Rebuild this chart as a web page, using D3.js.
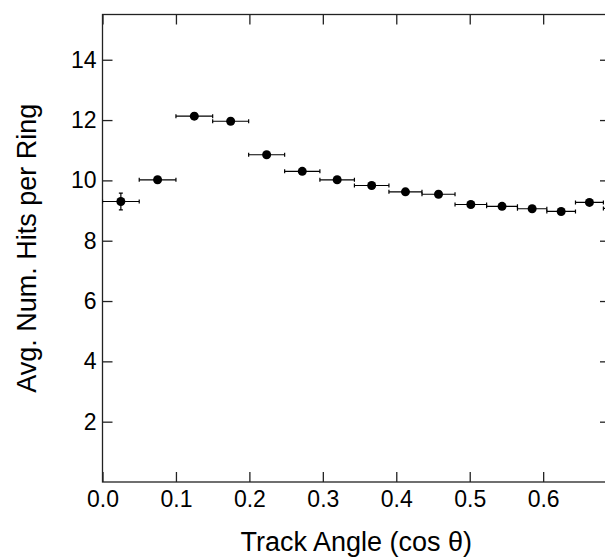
<!DOCTYPE html>
<html>
<head>
<meta charset="utf-8">
<script src="https://cdn.jsdelivr.net/npm/d3@7"></script>
<style>
  body { margin: 0; background: #fff; }
  svg { display: block; font-family: "Liberation Sans", Arial, sans-serif; }
</style>
</head>
<body>
<script>
// data
var binLow  = [0.000, 0.050, 0.100, 0.150, 0.199, 0.248, 0.296, 0.343, 0.390, 0.435, 0.480, 0.523, 0.565, 0.605, 0.644, 0.682],
    binHigh = [0.050, 0.100, 0.150, 0.199, 0.248, 0.296, 0.343, 0.390, 0.435, 0.480, 0.523, 0.565, 0.605, 0.644, 0.682, 0.718],
    hits    = [9.30, 10.02, 12.13, 11.96, 10.85, 10.30, 10.02, 9.83, 9.62, 9.54, 9.20, 9.14, 9.06, 8.97, 9.27, 9.07],
    hitsErr = [0.28, 0.10, 0.10, 0.10, 0.09, 0.08, 0.08, 0.07, 0.07, 0.07, 0.07, 0.07, 0.07, 0.08, 0.09, 0.10],
    xTicks = [0.0, 0.1, 0.2, 0.3, 0.4, 0.5, 0.6],
    yTicks = [2, 4, 6, 8, 10, 12, 14];

var margin = {top: 14.5, right: -5, bottom: 76, left: 102.5},
    canvasWidth = 605,
    canvasHeight = 558,
    plotWidth = canvasWidth - margin.left - margin.right,
    plotHeight = canvasHeight - margin.top - margin.bottom,
    tickLen = 10,
    axisColor = "#222";

var data = hits.map(function(h, i) {
    return {lo: binLow[i], hi: binHigh[i], x: (binLow[i] + binHigh[i]) / 2, y: h, e: hitsErr[i]};
});

var figure = d3.select("body")
    .append("svg")
        .attr("width", canvasWidth)
        .attr("height", canvasHeight);

var x = d3.scaleLinear()
        .range([margin.left, margin.left + plotWidth])
        .domain([0, 0.691]);
var y = d3.scaleLinear()
        .range([margin.top + plotHeight, margin.top])
        .domain([0, 15.5]);

figure.append("clipPath")
    .attr("id", "plotclip")
    .append("rect")
        .attr("x", margin.left)
        .attr("y", margin.top)
        .attr("width", plotWidth)
        .attr("height", plotHeight);

// axes: bottom + left with labels, top + right mirrored
function styleAxis(g) {
    g.select(".domain").remove();
    g.selectAll(".tick line").attr("stroke", axisColor).attr("stroke-width", 1.3);
    g.selectAll(".tick text").attr("fill", "#000").style("font-size", "23px");
}

figure.append("g")
    .attr("transform", "translate(0," + (margin.top + plotHeight) + ")")
    .call(d3.axisTop(x).tickValues(xTicks).tickSize(tickLen).tickFormat(d3.format(".1f")))
    .call(styleAxis)
    .call(function(g) {
        g.selectAll(".tick text").attr("y", 9).attr("dy", "0.71em");
    });

figure.append("g")
    .attr("transform", "translate(0," + margin.top + ")")
    .call(d3.axisBottom(x).tickValues(xTicks).tickSize(tickLen).tickFormat(""))
    .call(styleAxis);

figure.append("g")
    .attr("transform", "translate(" + margin.left + ",0)")
    .call(d3.axisRight(y).tickValues(yTicks).tickSize(tickLen).tickFormat(d3.format("d")))
    .call(styleAxis)
    .call(function(g) {
        g.selectAll(".tick text").attr("x", -6).attr("text-anchor", "end");
    });

figure.append("g")
    .attr("transform", "translate(" + (margin.left + plotWidth) + ",0)")
    .call(d3.axisLeft(y).tickValues(yTicks).tickSize(tickLen).tickFormat(""))
    .call(styleAxis);

// frame
figure.append("rect")
    .attr("x", margin.left)
    .attr("y", margin.top)
    .attr("width", plotWidth)
    .attr("height", plotHeight)
    .attr("fill", "none")
    .attr("stroke", axisColor)
    .attr("stroke-width", 1.3);

// points with error bars
var pts = figure.append("g")
    .attr("class", "points")
    .attr("clip-path", "url(#plotclip)");

var pt = pts.selectAll("g")
    .data(data)
    .enter()
    .append("g");

pt.append("line")
    .attr("x1", function(d) { return x(d.lo) })
    .attr("x2", function(d) { return x(d.hi) })
    .attr("y1", function(d) { return y(d.y) })
    .attr("y2", function(d) { return y(d.y) })
    .attr("stroke", "#000").attr("stroke-width", 1.2);

pt.selectAll(".cap")
    .data(function(d) { return [{x: d.lo, y: d.y}, {x: d.hi, y: d.y}]; })
    .enter()
    .append("line")
    .attr("x1", function(d) { return x(d.x) })
    .attr("x2", function(d) { return x(d.x) })
    .attr("y1", function(d) { return y(d.y) - 2 })
    .attr("y2", function(d) { return y(d.y) + 2 })
    .attr("stroke", "#000").attr("stroke-width", 1.2);

pt.append("line")
    .attr("x1", function(d) { return x(d.x) })
    .attr("x2", function(d) { return x(d.x) })
    .attr("y1", function(d) { return y(d.y - d.e) })
    .attr("y2", function(d) { return y(d.y + d.e) })
    .attr("stroke", "#000").attr("stroke-width", 1.2);

pt.selectAll(".vcap")
    .data(function(d) { return [{x: d.x, y: d.y - d.e}, {x: d.x, y: d.y + d.e}]; })
    .enter()
    .append("line")
    .attr("x1", function(d) { return x(d.x) - 2 })
    .attr("x2", function(d) { return x(d.x) + 2 })
    .attr("y1", function(d) { return y(d.y) })
    .attr("y2", function(d) { return y(d.y) })
    .attr("stroke", "#000").attr("stroke-width", 1.2);

pt.append("circle")
    .attr("r", 4.5)
    .attr("cx", function(d) { return x(d.x) })
    .attr("cy", function(d) { return y(d.y) })
    .attr("fill", "#000");

// axis titles
figure.append("text")
    .attr("x", margin.left + plotWidth / 2)
    .attr("y", 551)
    .attr("text-anchor", "middle")
    .style("font-size", "27px")
    .text("Track Angle (cos \u03b8)");

figure.append("text")
    .attr("transform", "translate(36," + (margin.top + plotHeight / 2) + ") rotate(-90)")
    .attr("text-anchor", "middle")
    .style("font-size", "27px")
    .text("Avg. Num. Hits per Ring");
</script>
</body>
</html>
